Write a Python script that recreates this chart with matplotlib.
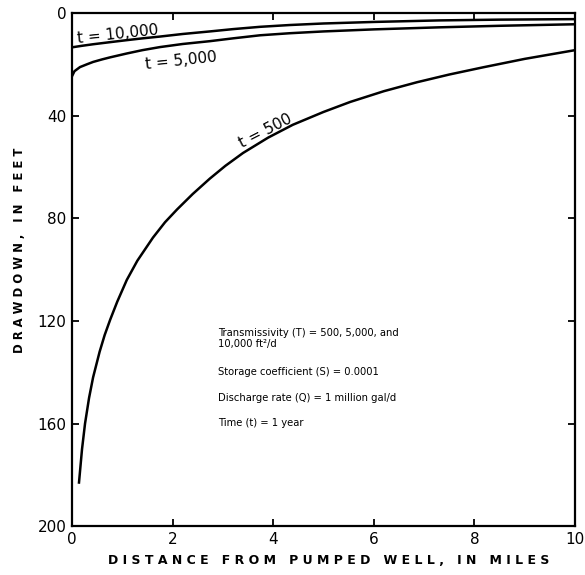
import matplotlib
matplotlib.use("Agg")
import matplotlib.pyplot as plt

# distance from pumped well (miles) and drawdown (feet)
dist_500 = [0.14, 0.2, 0.26, 0.34, 0.42, 0.55, 0.65, 0.76, 0.9, 1.09, 1.3, 1.61, 1.85,
            2.09, 2.4, 2.74, 3.05, 3.40, 3.9, 4.39, 5.0, 5.53, 6.2, 6.86, 7.5, 8.17,
            9.0, 10.0]
draw_500 = [183, 170, 160, 150, 142, 132, 125.5, 119.5, 112.5, 104, 96.5, 87.5, 81.5,
            76.5, 70.5, 64.5, 59.5, 54.5, 48.5, 43.5, 38.5, 34.6, 30.4, 26.9, 23.9, 21.1,
            17.8, 14.4]

dist_5000 = [0.0, 0.05, 0.16, 0.3, 0.42, 0.6, 0.76, 1.09, 1.4, 1.75, 2.2, 2.74, 3.2,
             3.74, 4.33, 5.0, 6.0, 7.3, 8.5, 10.0]
draw_5000 = [24.6, 22.6, 21.0, 19.9, 19.0, 18.0, 17.2, 15.7, 14.4, 13.2, 12.0, 10.9, 9.8,
             8.6, 7.8, 7.1, 6.3, 5.5, 4.9, 4.3]

dist_10000 = [0.0, 0.2, 0.42, 0.75, 1.09, 1.4, 1.75, 2.2, 2.74, 3.2, 3.74, 4.33, 5.0,
              6.0, 7.3, 8.5, 10.0]
draw_10000 = [13.3, 12.7, 12.1, 11.3, 10.5, 9.8, 9.1, 8.1, 7.1, 6.2, 5.3, 4.6, 4.0,
              3.4, 2.8, 2.5, 2.3]

notes = [
    "Transmissivity (T) = 500, 5,000, and\n10,000 ft\u00b2/d",
    "Storage coefficient (S) = 0.0001",
    "Discharge rate (Q) = 1 million gal/d",
    "Time (t) = 1 year",
]

fig = plt.figure(figsize=(5.85, 5.75), dpi=100)
ax = fig.add_axes([0.123, 0.085, 0.86, 0.892])

for d, s in [(dist_500, draw_500), (dist_5000, draw_5000), (dist_10000, draw_10000)]:
    ax.plot(d, s, color="black", lw=1.8, solid_joinstyle="round")

ax.set_xlim(0, 10)
ax.set_ylim(200, 0)
ax.set_xticks([0, 2, 4, 6, 8, 10])
ax.set_yticks([0, 40, 80, 120, 160, 200])
ax.tick_params(direction="in", top=True, right=True, length=5, width=1.3,
               labelsize=11, pad=4)
for sp in ax.spines.values():
    sp.set_linewidth(1.6)

ax.text(0.1, 8.3, "t = 10,000", fontsize=11, rotation=6, ha="left", va="center")
ax.text(1.45, 18.5, "t = 5,000", fontsize=11, rotation=6, ha="left", va="center")
ax.text(3.85, 46, "t = 500", fontsize=11, rotation=27, ha="center", va="center")

ys = [0.3655, 0.300, 0.2495, 0.2008]
for txt, y in zip(notes, ys):
    ax.text(0.29, y, txt, transform=ax.transAxes, fontsize=7.2, va="center",
            linespacing=1.05)

def spaced(s):
    return "   ".join(" ".join(w) for w in s.split(" "))

fig.text(0.562, 0.026, spaced("DISTANCE FROM PUMPED WELL, IN MILES"),
         ha="center", va="center", fontsize=9, fontweight="bold")
fig.text(0.033, 0.565, spaced("DRAWDOWN, IN FEET"), ha="center", va="center",
         rotation=90, fontsize=8.4, fontweight="bold")

fig.savefig("out.png", dpi=100)
